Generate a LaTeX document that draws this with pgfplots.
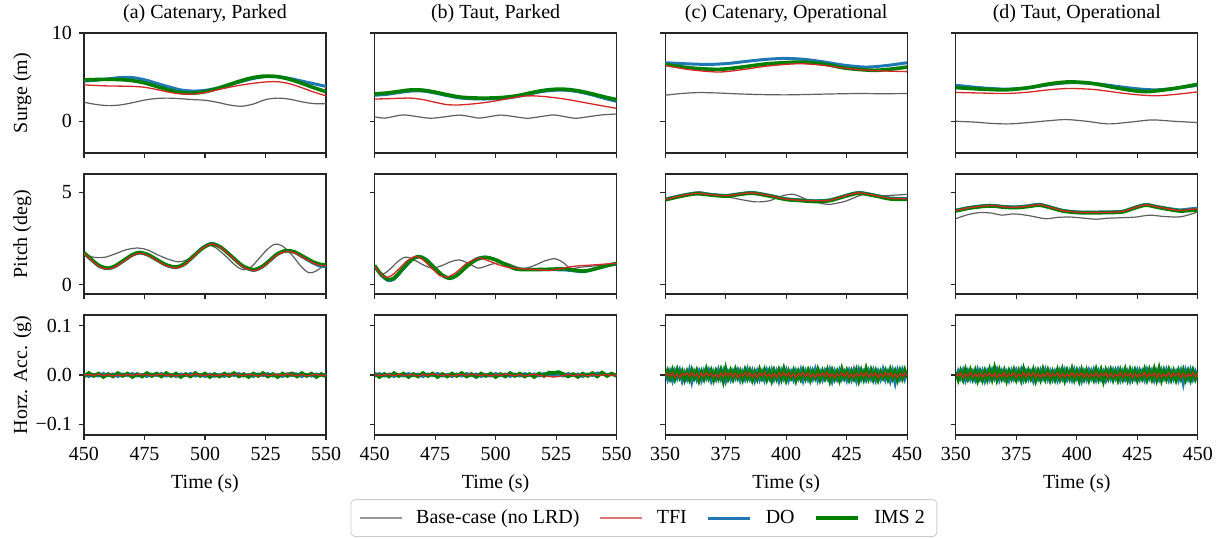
\documentclass[border=0pt]{standalone}
\usepackage{fontspec}
\setmainfont{Liberation Serif}
\usepackage{pgfplots}
\pgfplotsset{compat=1.18}
\usepackage{pgfplotstable}
\usepgfplotslibrary{groupplots}

\definecolor{basec}{RGB}{95,95,95}
\definecolor{tfic}{RGB}{214,39,40}
\definecolor{doc}{RGB}{31,119,180}
\definecolor{imsc}{RGB}{0,128,0}

\pgfplotsset{
  sBase/.style={color=basec, line width=0.6pt},
  sTFI/.style={color=tfic, line width=0.65pt},
  sDO/.style={color=doc, line width=1.5pt},
  sIMS/.style={color=imsc, line width=1.8pt},
}

% Horizontal acceleration, in milli-g
\pgfplotstableread{
t base tfi do ims
450 1 0 2 -3
452 -2 1 -3 4
454 2 -1 1 -2
456 0 2 -2 3
458 -1 -1 3 -4
460 2 1 -1 2
462 -2 -2 2 -3
464 1 0 -3 4
466 -1 -1 2 -2
468 2 1 -1 3
470 0 -1 3 -4
472 -2 2 -2 2
474 1 0 1 -3
476 -1 1 -3 4
478 2 -1 2 -2
480 -1 0 -1 3
482 1 2 3 -3
484 -2 -1 -2 4
486 0 1 1 -2
488 2 -2 -3 3
490 -1 0 2 -4
492 1 1 -1 2
494 -2 -1 3 -3
496 1 2 -2 4
498 -1 0 1 -2
500 2 -1 -3 3
502 -3 1 2 -4
504 -4 -1 -2 2
506 -2 0 1 -3
508 1 1 -3 3
510 -1 -1 2 -2
512 2 2 -1 4
514 0 0 3 -3
516 -1 -1 -2 2
518 2 1 1 -4
520 1 0 -3 3
522 3 -2 2 -2
524 -1 1 -1 4
526 2 -1 3 -3
528 -2 0 -2 2
530 1 1 1 -4
532 -1 -1 -3 3
534 4 2 2 -2
536 5 0 -1 3
538 3 -1 2 -3
540 -1 1 -3 4
542 2 -2 1 -2
544 -2 0 -2 3
546 1 1 2 -4
548 -1 -1 -1 2
550 0 0 1 -3
}\accA

\pgfplotstableread{
t base tfi do ims
450 -1 1 -2 3
452 2 -1 3 -4
454 -1 0 -2 2
456 1 1 2 -3
458 -2 -1 -3 4
460 1 2 1 -2
462 -1 -1 -2 3
464 2 0 3 -4
466 -1 1 -1 2
468 1 -2 2 -3
470 -2 1 -3 4
472 1 -1 2 -2
474 -1 2 -1 3
476 2 0 3 -4
478 -1 -1 -2 2
480 1 1 1 -3
482 -2 -2 -3 3
484 1 0 2 -2
486 -1 1 -2 4
488 2 -1 3 -3
490 -1 2 -1 2
492 1 0 2 -4
494 -2 -1 -3 3
496 1 1 1 -2
498 -1 -2 -2 3
500 2 1 3 -4
502 -1 -1 -1 2
504 1 2 2 -3
506 -2 0 -3 4
508 1 -1 2 -2
510 -1 1 -2 3
512 2 -2 3 -3
514 -1 0 -1 2
516 1 1 2 -4
518 -2 -1 -2 3
520 1 -2 3 -2
522 -1 -3 1 5
524 2 -4 -1 4
526 1 -3 2 6
528 -2 -1 -2 2
530 1 1 3 -3
532 -1 -1 -1 2
534 2 0 2 -4
536 -1 1 -3 3
538 1 -2 2 -2
540 -2 1 -1 4
542 1 -1 4 -3
544 -1 0 3 5
546 2 1 1 -2
548 -1 -1 2 3
550 1 0 -1 -2
}\accB

\pgfplotstableread{
t base tfi do ims
350 3 -2 6 -5
351 -6 4 -9 8
352 5 -3 7 -6
353 -4 5 -11 9
354 7 -4 8 -7
355 -5 2 -6 10
356 2 -5 9 -4
357 -7 3 -12 7
358 6 -1 5 -9
359 -3 4 -8 6
360 4 -3 10 -8
361 -8 5 -14 9
362 5 -2 6 -5
363 -2 3 -9 8
364 6 -5 7 -10
365 -6 4 -10 6
366 3 -3 8 -7
367 -4 5 -6 11
368 7 -2 9 -5
369 -5 3 -11 8
370 2 -4 6 -9
371 -7 2 -8 7
372 4 -5 10 -6
373 -3 4 -7 9
374 6 -3 8 -11
375 -5 5 -12 12
376 3 -2 5 -6
377 -6 4 -9 8
378 5 -4 7 -7
379 -2 3 -6 10
380 7 -5 9 -5
381 -4 2 -10 7
382 3 -3 6 -8
383 -7 5 -8 9
384 5 -2 11 -6
385 -3 4 -7 8
386 6 -4 8 -9
387 -5 3 -11 6
388 2 -5 7 -7
389 -6 4 -9 10
390 4 -2 6 -5
391 -3 5 -10 9
392 7 -3 9 -8
393 -5 2 -6 7
394 3 -4 10 -10
395 -7 3 -8 8
396 5 -5 7 -6
397 -2 4 -12 9
398 6 -2 8 -7
399 -4 5 -7 11
400 3 -3 9 -9
401 -6 4 -10 7
402 5 -4 6 -5
403 -3 2 -9 8
404 7 -5 8 -10
405 -5 3 -6 6
406 2 -2 10 -7
407 -7 5 -11 9
408 4 -3 7 -6
409 -4 4 -8 8
410 6 -4 9 -9
411 -3 2 -7 7
412 5 -5 11 -5
413 -6 3 -10 10
414 3 -2 6 -8
415 -5 4 -9 7
416 7 -3 8 -6
417 -2 5 -6 9
418 4 -4 10 -10
419 -6 2 -12 8
420 5 -5 7 -7
421 -3 3 -8 6
422 6 -2 9 -9
423 -7 4 -7 11
424 3 -3 6 -5
425 -4 5 -10 8
426 8 -4 8 -8
427 -5 2 -9 7
428 17 -5 7 -6
429 -6 3 -11 9
430 4 -2 10 -10
431 -3 4 -8 8
432 6 -3 6 -7
433 -5 5 -9 12
434 2 -4 8 -6
435 -7 3 -7 9
436 5 -2 9 -8
437 -2 4 -10 7
438 7 -5 7 -9
439 -4 3 -8 6
440 3 -3 11 -5
441 -6 5 -9 8
442 5 -2 6 -7
443 -3 4 -12 10
444 6 -4 8 -6
445 -5 2 -16 7
446 4 -5 9 -9
447 -7 3 -7 8
448 2 -3 10 -6
449 -4 4 -8 9
450 5 -2 6 -5
}\accC

\pgfplotstableread{
t base tfi do ims
350 -4 3 -7 6
351 5 -2 8 -9
352 -3 4 -6 7
353 6 -5 9 -8
354 -7 2 -10 10
355 4 -3 7 -6
356 -5 5 -8 9
357 3 -4 6 -7
358 -6 2 -9 8
359 7 -3 10 -10
360 -9 4 -7 6
361 5 -5 8 -9
362 -4 3 -11 7
363 6 -2 7 -8
364 -3 4 -8 10
365 5 -4 9 -7
366 -7 3 -6 13
367 4 -5 10 -8
368 -5 2 -9 9
369 3 -3 7 -6
370 -6 5 -8 8
371 7 -4 6 -10
372 -4 3 -10 7
373 5 -2 8 -6
374 -3 4 -7 9
375 6 -5 9 -8
376 -7 2 -6 7
377 4 -3 10 -9
378 -5 5 -9 11
379 3 -4 7 -7
380 -6 3 -8 8
381 7 -2 6 -6
382 -4 4 -11 9
383 5 -5 8 -10
384 -3 3 -7 7
385 6 -4 9 -8
386 -7 2 -6 10
387 4 -3 10 -7
388 -5 5 -8 8
389 3 -4 7 -9
390 -6 3 -9 6
391 7 -2 6 -8
392 -4 4 -10 9
393 5 -5 8 -7
394 -3 3 -7 10
395 6 -4 9 -9
396 -7 2 -8 8
397 4 -3 7 -6
398 -5 5 -9 11
399 3 -4 10 -8
400 -6 3 -6 7
401 7 -2 8 -10
402 -4 4 -11 9
403 5 -5 7 -7
404 -3 3 -8 8
405 6 -4 9 -9
406 -7 2 -6 6
407 4 -3 10 -8
408 -5 5 -9 10
409 3 -4 7 -7
410 -6 3 -8 9
411 7 -2 6 -11
412 -4 4 -10 8
413 5 -5 8 -6
414 -3 3 -7 9
415 6 -4 9 -8
416 -7 2 -6 7
417 4 -3 10 -9
418 -5 5 -9 8
419 3 -4 7 -7
420 -6 3 -8 10
421 7 -2 6 -8
422 -4 4 -11 9
423 5 -5 8 -7
424 -3 3 -7 8
425 6 -4 9 -9
426 -7 2 -8 7
427 4 -3 7 -6
428 -5 5 -9 10
429 3 -4 10 -8
430 -6 3 -6 9
431 7 -2 8 -7
432 -4 4 -10 11
433 5 -5 7 -8
434 -3 3 -8 12
435 6 -4 9 -9
436 -7 2 -6 8
437 4 -3 10 -7
438 -5 5 -9 9
439 3 -4 7 -8
440 -6 3 -8 7
441 7 -2 6 -9
442 -4 4 -10 8
443 5 -5 8 -6
444 -3 3 -17 9
445 6 -4 9 -8
446 -7 2 -7 7
447 4 -3 10 -9
448 -5 5 -8 8
449 3 -4 7 -7
450 -4 3 -6 6
}\accD

\begin{document}
\begin{tikzpicture}[font=\fontsize{10}{12}\selectfont]
\begin{groupplot}[
  group style={group size=4 by 3, horizontal sep=24.3pt, vertical sep=10.5pt, group name=G},
  width=121pt, height=60pt, scale only axis,
  tick align=outside, tick pos=left, major tick length=2.5pt,
  axis line style={line width=0.6pt, black!85},
  every tick/.style={black!85, line width=0.6pt},
  /pgf/number format/assume math mode=true,
  tick label style={font=\fontsize{10}{12}\selectfont},
  label style={font=\fontsize{10}{12}\selectfont},
  every axis title shift=0pt,
  title style={font=\fontsize{10}{12}\selectfont, at={(0.5,1)}, anchor=south, yshift=1.5pt},
  ylabel style={at={(axis description cs:-0.255,0.5)}, anchor=center},
  no markers,
]
% ---------- Row 1: surge ----------
\nextgroupplot[title={(a) Catenary, Parked}, xmin=450, xmax=550, xtick={450,475,500,525,550}, xticklabels={},
  ymin=-3.6, ymax=10, ytick={0,10}, ylabel={Surge (m)}]
\addplot[sBase, smooth] coordinates {(450,2.15) (455,1.9) (460,1.77) (465,1.85) (470,2.1) (475,2.4) (480,2.58) (485,2.62) (490,2.55) (495,2.45) (500,2.38) (505,2.15) (510,1.85) (515,1.7) (520,1.95) (525,2.45) (530,2.62) (535,2.5) (540,2.2) (545,2.0) (550,1.98)};
\addplot[sDO, smooth] coordinates {(450,4.55) (455,4.65) (460,4.8) (465,4.95) (470,4.95) (475,4.7) (480,4.3) (485,3.9) (490,3.55) (495,3.42) (500,3.5) (505,3.75) (510,4.1) (515,4.5) (520,4.85) (525,5.05) (530,5.05) (535,4.85) (540,4.55) (545,4.25) (550,3.95)};
\addplot[sIMS, smooth] coordinates {(450,4.68) (455,4.73) (460,4.75) (465,4.72) (470,4.6) (475,4.35) (480,3.95) (485,3.55) (490,3.25) (495,3.18) (500,3.35) (505,3.7) (510,4.15) (515,4.6) (520,4.95) (525,5.12) (530,5.05) (535,4.75) (540,4.3) (545,3.8) (550,3.35)};
\addplot[sTFI, smooth] coordinates {(450,4.12) (455,4.05) (460,4.0) (465,3.98) (470,3.95) (475,3.85) (480,3.6) (485,3.3) (490,3.1) (495,3.08) (500,3.25) (505,3.55) (510,3.85) (515,4.1) (520,4.3) (525,4.45) (530,4.48) (535,4.25) (540,3.8) (545,3.3) (550,2.88)};

\nextgroupplot[title={(b) Taut, Parked}, xmin=450, xmax=550, xtick={450,475,500,525,550}, xticklabels={},
  ymin=-3.6, ymax=10, ytick={0,10}, yticklabels={}]
\addplot[sBase, smooth] coordinates {(450,0.5) (454,0.35) (458,0.55) (462,0.72) (467,0.55) (473,0.34) (479,0.5) (485,0.7) (489,0.55) (493,0.36) (497,0.5) (502,0.7) (507,0.55) (513,0.34) (518,0.5) (524,0.72) (528,0.55) (533,0.34) (538,0.5) (544,0.72) (550,0.82)};
\addplot[sDO, smooth] coordinates {(450,2.95) (455,3.05) (460,3.25) (465,3.42) (470,3.42) (475,3.2) (480,2.9) (485,2.65) (490,2.55) (495,2.52) (500,2.55) (505,2.65) (510,2.85) (515,3.15) (520,3.4) (525,3.52) (530,3.5) (535,3.3) (540,2.98) (545,2.6) (550,2.25)};
\addplot[sIMS, smooth] coordinates {(450,3.1) (455,3.2) (460,3.38) (465,3.55) (470,3.52) (475,3.3) (480,3.0) (485,2.75) (490,2.65) (495,2.62) (500,2.65) (505,2.75) (510,2.95) (515,3.25) (520,3.5) (525,3.63) (530,3.6) (535,3.4) (540,3.1) (545,2.75) (550,2.45)};
\addplot[sTFI, smooth] coordinates {(450,2.52) (455,2.55) (460,2.6) (465,2.62) (470,2.45) (475,2.15) (480,1.88) (485,1.85) (490,1.95) (495,2.1) (500,2.3) (505,2.55) (510,2.8) (515,2.88) (520,2.8) (525,2.65) (530,2.45) (535,2.2) (540,1.95) (545,1.7) (550,1.46)};

\nextgroupplot[title={(c) Catenary, Operational}, xmin=350, xmax=450, xtick={350,375,400,425,450}, xticklabels={},
  ymin=-3.6, ymax=10, ytick={0,10}, yticklabels={}]
\addplot[sBase, smooth] coordinates {(350,2.95) (357,3.15) (364,3.25) (372,3.2) (380,3.1) (390,3.02) (400,2.99) (410,3.04) (420,3.1) (430,3.14) (440,3.12) (450,3.14)};
\addplot[sDO, smooth] coordinates {(350,6.63) (360,6.5) (368,6.44) (376,6.55) (384,6.8) (392,7.02) (400,7.12) (408,7.0) (416,6.7) (424,6.35) (433,6.14) (441,6.3) (450,6.63)};
\addplot[sIMS, smooth] coordinates {(350,6.44) (360,6.05) (372,5.88) (382,6.15) (392,6.5) (405.5,6.7) (415,6.5) (425,6.0) (436,5.77) (443,5.9) (450,6.14)};
\addplot[sTFI, smooth] coordinates {(350,6.33) (360,5.85) (372,5.58) (382,5.85) (392,6.25) (405,6.52) (415,6.35) (423,6.05) (430,5.84) (440,5.7) (450,5.62)};

\nextgroupplot[title={(d) Taut, Operational}, xmin=350, xmax=450, xtick={350,375,400,425,450}, xticklabels={},
  ymin=-3.6, ymax=10, ytick={0,10}, yticklabels={}]
\addplot[sBase, smooth] coordinates {(350,0.0) (358,-0.1) (365,-0.25) (372,-0.3) (380,-0.15) (388,0.05) (395.5,0.19) (404,0.0) (413,-0.3) (422,-0.1) (431,0.15) (440,0.0) (450,-0.15)};
\addplot[sDO, smooth] coordinates {(350,4.08) (360,3.8) (370.7,3.64) (380,3.8) (390,4.2) (398,4.38) (408,4.25) (418,3.9) (426,3.65) (433,3.56) (441,3.75) (450,4.08)};
\addplot[sIMS, smooth] coordinates {(350,3.82) (360,3.65) (370.7,3.56) (380,3.8) (389,4.25) (397,4.46) (406,4.3) (416,3.8) (424,3.45) (430,3.37) (440,3.7) (450,4.19)};
\addplot[sTFI, smooth] coordinates {(350,3.26) (360,3.2) (370.7,3.14) (380,3.3) (389,3.58) (397,3.71) (407,3.6) (417,3.25) (425,3.0) (433,2.89) (441,3.05) (450,3.33)};

% ---------- Row 2: pitch ----------
\nextgroupplot[xmin=450, xmax=550, xtick={450,475,500,525,550}, xticklabels={},
  ymin=-0.5, ymax=6, ytick={0,5}, ylabel={Pitch (deg)}]
\addplot[sBase, smooth] coordinates {(450,1.72) (453,1.52) (456,1.47) (459,1.5) (463,1.68) (467.5,1.9) (472,1.99) (476,1.9) (480,1.65) (484.5,1.4) (489,1.24) (492.5,1.35) (496,1.7) (499,2.0) (501.5,2.15) (504.5,2.0) (509,1.5) (513,1.0) (516,0.81) (519,0.95) (522.5,1.45) (526,1.95) (529,2.2) (532,2.1) (536,1.6) (540,0.95) (543,0.65) (546,0.75) (550,1.15)};
\addplot[sDO, smooth] coordinates {(450,1.72) (453,1.35) (456.5,0.98) (460,0.87) (463,1.0) (466.5,1.3) (470,1.6) (473,1.72) (476.5,1.6) (480.5,1.3) (484,1.05) (488,0.93) (491.5,1.1) (495.3,1.55) (499,2.0) (502.6,2.24) (506.5,2.05) (511.3,1.5) (515.5,1.0) (520,0.78) (523.5,0.95) (526.8,1.3) (530,1.65) (533.5,1.83) (537,1.75) (541,1.45) (545,1.15) (548,1.0) (550,0.98)};
\addplot[sIMS, smooth] coordinates {(450,1.74) (453,1.38) (456.5,1.02) (460,0.9) (463,1.03) (466.5,1.33) (470,1.63) (473,1.75) (476.5,1.63) (480.5,1.33) (484,1.08) (488,0.96) (491.5,1.13) (495.3,1.56) (499,1.98) (502.6,2.2) (506.5,2.03) (511.3,1.5) (515.5,1.03) (520,0.82) (523.5,0.98) (526.8,1.33) (530,1.68) (533.5,1.85) (537,1.78) (541,1.5) (545,1.22) (548,1.1) (550,1.08)};
\addplot[sTFI, smooth] coordinates {(450,1.7) (453,1.33) (456.5,0.96) (460,0.85) (463,0.98) (466.5,1.28) (470,1.58) (473,1.7) (476.5,1.58) (480.5,1.28) (484,1.03) (488,0.91) (491.5,1.08) (495.3,1.53) (499,1.97) (502.6,2.2) (506.5,2.02) (511.3,1.48) (515.5,0.98) (520,0.76) (523.5,0.93) (526.8,1.28) (530,1.63) (533.5,1.8) (537,1.73) (541,1.44) (545,1.16) (548,1.05) (550,1.05)};

\nextgroupplot[xmin=450, xmax=550, xtick={450,475,500,525,550}, xticklabels={},
  ymin=-0.5, ymax=6, ytick={0,5}, yticklabels={}]
\addplot[sBase, smooth] coordinates {(450,1.0) (453,0.59) (456,0.8) (459.5,1.25) (463,1.5) (467,1.3) (470.5,1.05) (474,0.9) (478,1.05) (481.5,1.25) (485,1.35) (489,1.15) (493,0.9) (498,1.1) (503,1.22) (507,1.05) (511,0.87) (514,0.95) (517,1.1) (520.5,1.3) (524.5,1.41) (528,1.2) (531,0.88) (535,0.95) (540,1.01) (545,1.08) (550,1.13)};
\addplot[sDO, smooth] coordinates {(450,1.01) (452.5,0.55) (455.5,0.24) (458,0.3) (461.5,0.8) (465,1.3) (468,1.54) (471,1.4) (474.5,0.95) (478,0.5) (481,0.33) (484,0.5) (488,1.0) (492,1.4) (496,1.5) (500,1.35) (504,1.1) (508.6,0.87) (515,0.84) (522,0.82) (529,0.8) (536,0.71) (541,0.85) (546,1.02) (550,1.13)};
\addplot[sIMS, smooth] coordinates {(450,1.05) (452.5,0.6) (455.5,0.3) (458,0.36) (461.5,0.85) (465,1.33) (468,1.52) (471,1.38) (474.5,0.95) (478,0.52) (481,0.36) (484,0.52) (488,0.98) (492,1.36) (496,1.48) (500,1.35) (504,1.1) (508.6,0.85) (515,0.82) (522,0.84) (529,0.86) (536,0.74) (541,0.86) (546,1.04) (550,1.16)};
\addplot[sTFI, smooth] coordinates {(450,1.0) (454,0.42) (457,0.5) (460,0.85) (463.5,1.3) (467,1.54) (470,1.35) (474,0.85) (477,0.5) (480,0.42) (483.5,0.65) (488,1.15) (493,1.45) (497,1.3) (502,1.05) (507,0.9) (514,0.85) (522,0.78) (528,0.9) (533,1.01) (541,1.08) (550,1.17)};

\nextgroupplot[xmin=350, xmax=450, xtick={350,375,400,425,450}, xticklabels={},
  ymin=-0.5, ymax=6, ytick={0,5}, yticklabels={}]
\addplot[sBase, smooth] coordinates {(350,4.67) (357,4.85) (364,5.04) (370,4.85) (376,4.75) (382,4.6) (387.6,4.49) (393,4.55) (398,4.8) (403,4.9) (409,4.6) (416.6,4.36) (421,4.42) (425,4.55) (432,4.9) (438,4.82) (444,4.85) (450,4.9)};
\addplot[sDO, smooth] coordinates {(350,4.64) (357,4.85) (363,4.97) (369,4.9) (375,4.84) (380,4.92) (386,5.0) (393,4.85) (400,4.66) (406,4.6) (412,4.55) (418,4.6) (424,4.82) (430,5.0) (437,4.85) (443,4.7) (450,4.68)};
\addplot[sIMS, smooth] coordinates {(350,4.6) (357,4.81) (363,4.93) (369,4.86) (375,4.8) (380,4.88) (386,4.96) (393,4.81) (400,4.62) (406,4.56) (412,4.51) (418,4.56) (424,4.78) (430,4.96) (437,4.81) (443,4.65) (450,4.63)};
\addplot[sTFI, smooth] coordinates {(350,4.62) (357,4.83) (363,4.95) (369,4.88) (375,4.82) (380,4.9) (386,4.98) (393,4.83) (400,4.64) (406,4.58) (412,4.55) (418,4.58) (424,4.8) (430,4.98) (437,4.83) (443,4.68) (450,4.66)};

\nextgroupplot[xmin=350, xmax=450, xtick={350,375,400,425,450}, xticklabels={},
  ymin=-0.5, ymax=6, ytick={0,5}, yticklabels={}]
\addplot[sBase, smooth] coordinates {(350,3.58) (355,3.8) (360,3.91) (365,3.88) (369,3.77) (374,3.84) (380,3.75) (387,3.58) (392,3.65) (397,3.67) (402,3.62) (408,3.55) (412,3.6) (416,3.62) (420,3.64) (424.5,3.67) (430,3.77) (436,3.7) (442,3.67) (446,3.78) (450,3.95)};
\addplot[sDO, smooth] coordinates {(350,4.04) (356,4.2) (364,4.31) (370,4.24) (375,4.22) (380,4.28) (384.5,4.36) (389,4.22) (394,4.04) (400,3.95) (406,3.94) (413,3.95) (419,3.99) (424,4.2) (428.6,4.35) (434,4.22) (442,4.06) (446,4.1) (450,4.15)};
\addplot[sIMS, smooth] coordinates {(350,4.0) (356,4.16) (364,4.27) (370,4.2) (375,4.18) (380,4.24) (384.5,4.31) (389,4.18) (394,4.0) (400,3.91) (406,3.9) (413,3.91) (419,3.95) (424,4.16) (428.6,4.31) (434,4.18) (442,4.0) (446,4.02) (450,4.05)};
\addplot[sTFI, smooth] coordinates {(350,4.02) (356,4.18) (364,4.29) (370,4.22) (375,4.2) (380,4.26) (384.5,4.34) (389,4.2) (394,4.02) (400,3.93) (406,3.92) (413,3.93) (419,3.97) (424,4.18) (428.6,4.33) (434,4.2) (442,4.03) (446,4.07) (450,4.12)};

% ---------- Row 3: horizontal acceleration ----------
\nextgroupplot[xmin=450, xmax=550, xtick={450,475,500,525,550}, xlabel={Time (s)},
  ymin=-122, ymax=122, ytick={-100,0,100}, yticklabels={−0.1,0.0,0.1}, ylabel={Horz. Acc. (g)}]
\addplot[sBase] table[x=t, y=base] {\accA};
\addplot[sDO] table[x=t, y=do] {\accA};
\addplot[sIMS] table[x=t, y=ims] {\accA};
\addplot[sTFI] table[x=t, y=tfi] {\accA};

\nextgroupplot[xmin=450, xmax=550, xtick={450,475,500,525,550}, xlabel={Time (s)},
  ymin=-122, ymax=122, ytick={-100,0,100}, yticklabels={},
  legend columns=4,
  legend style={at={(axis description cs:1.113,-0.692)}, anchor=center,
    draw=black!20, rounded corners=2pt, fill=white,
    font=\fontsize{10}{12}\selectfont, inner xsep=4pt, inner ysep=3pt,
    /tikz/every odd column/.append style={column sep=5pt},
    /tikz/every even column/.append style={column sep=8pt}},
  legend image code/.code={\draw[#1] (0pt,0pt) -- (21pt,0pt);}]
\addlegendimage{sBase, opacity=0.65}
\addlegendentry{Base-case (no LRD)}
\addlegendimage{sTFI, opacity=0.65}
\addlegendentry{TFI}
\addlegendimage{sDO}
\addlegendentry{DO}
\addlegendimage{sIMS}
\addlegendentry{IMS 2}
\addplot[sBase, forget plot] table[x=t, y=base] {\accB};
\addplot[sDO, forget plot] table[x=t, y=do] {\accB};
\addplot[sIMS, forget plot] table[x=t, y=ims] {\accB};
\addplot[sTFI, forget plot] table[x=t, y=tfi] {\accB};

\nextgroupplot[xmin=350, xmax=450, xtick={350,375,400,425,450}, xlabel={Time (s)},
  ymin=-122, ymax=122, ytick={-100,0,100}, yticklabels={}]
\addplot[sBase] table[x=t, y=base] {\accC};
\addplot[sDO] table[x=t, y=do] {\accC};
\addplot[sIMS] table[x=t, y=ims] {\accC};
\addplot[sTFI] table[x=t, y=tfi] {\accC};

\nextgroupplot[xmin=350, xmax=450, xtick={350,375,400,425,450}, xlabel={Time (s)},
  ymin=-122, ymax=122, ytick={-100,0,100}, yticklabels={}]
\addplot[sBase] table[x=t, y=base] {\accD};
\addplot[sDO] table[x=t, y=do] {\accD};
\addplot[sIMS] table[x=t, y=ims] {\accD};
\addplot[sTFI] table[x=t, y=tfi] {\accD};
\end{groupplot}
\pgfresetboundingbox
\path[use as bounding box] (G c1r1.north west) ++(-42pt,16.5pt) rectangle ++(610pt,-269pt);
\end{tikzpicture}
\end{document}
